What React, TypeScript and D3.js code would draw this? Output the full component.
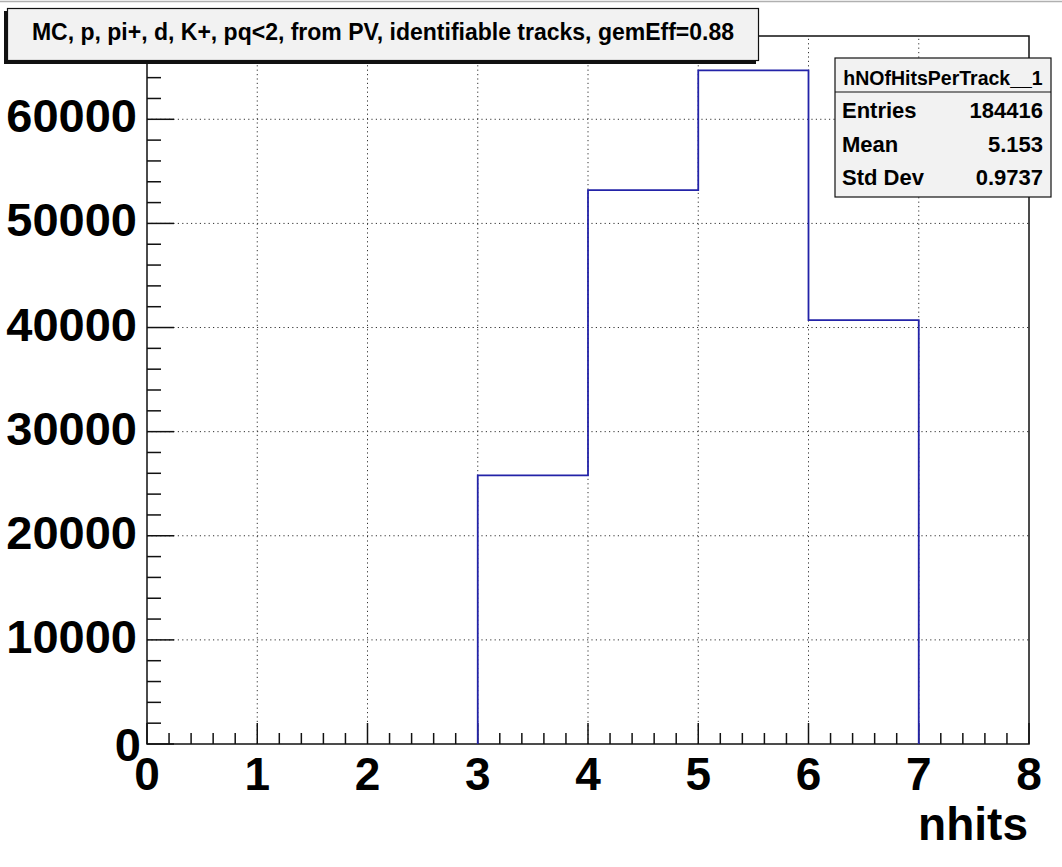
import { useEffect, useRef } from "react";
import * as d3 from "d3";

// histogram bins (lower edge) and counts
const binEdges = [3, 4, 5, 6];
const binCounts = [25800, 53200, 64700, 40716];
const xTicks = [0, 1, 2, 3, 4, 5, 6, 7, 8];
const yTicks = [0, 10000, 20000, 30000, 40000, 50000, 60000];
const titleText = "MC, p, pi+, d, K+, pq<2, from PV, identifiable tracks, gemEff=0.88";
const statsName = "hNOfHitsPerTrack__1";
const statsLabels = ["Entries", "Mean", "Std Dev"];
const statsValues = ["184416", "5.153", "0.9737"];

export default function App() {
  const ref = useRef<SVGSVGElement>(null);

  useEffect(() => {
    const width = 1062;
    const height = 867;
    const left = 147;
    const right = 1029;
    const top = 36;
    const bottom = 744;
    const font = "'Liberation Sans', Arial, Helvetica, sans-serif";

    const svg = d3.select(ref.current);
    svg.selectAll("*").remove();
    svg.attr("width", width).attr("height", height)
      .attr("viewBox", `0 0 ${width} ${height}`)
      .style("font-family", font);

    svg.append("rect").attr("width", width).attr("height", height).attr("fill", "white");
    svg.append("line").attr("x1", 0).attr("x2", width).attr("y1", 1.5).attr("y2", 1.5)
      .attr("stroke", "#b0b0b0").attr("stroke-width", 1.5);

    const x = d3.scaleLinear([0, 8], [left, right]);
    const y = d3.scaleLinear([0, 68000], [bottom, top]);

    // grid
    const grid = svg.append("g").attr("stroke", "#333").attr("stroke-width", 1)
      .attr("stroke-dasharray", "1.2,3.2");
    xTicks.slice(1, -1).forEach(t => {
      grid.append("line").attr("x1", x(t)).attr("x2", x(t)).attr("y1", bottom).attr("y2", top);
    });
    yTicks.slice(1).forEach(t => {
      grid.append("line").attr("x1", left).attr("x2", right).attr("y1", y(t)).attr("y2", y(t));
    });

    // frame
    svg.append("rect").attr("x", left).attr("y", top)
      .attr("width", right - left).attr("height", bottom - top)
      .attr("fill", "none").attr("stroke", "#111").attr("stroke-width", 1.5);

    // ticks
    const ticks = svg.append("g").attr("stroke", "#111").attr("stroke-width", 1.5);
    d3.range(0, 8.001, 0.2).forEach(v => {
      const major = Math.abs(v - Math.round(v)) < 1e-6;
      ticks.append("line").attr("x1", x(v)).attr("x2", x(v))
        .attr("y1", bottom).attr("y2", bottom - (major ? 21 : 11));
    });
    d3.range(0, 68001, 2000).forEach(v => {
      const major = v % 10000 === 0;
      ticks.append("line").attr("x1", left).attr("x2", left + (major ? 27 : 14))
        .attr("y1", y(v)).attr("y2", y(v));
    });

    // histogram
    const pts: [number, number][] = [];
    binEdges.forEach((e, i) => {
      pts.push([e, i === 0 ? 0 : binCounts[i - 1]]);
      pts.push([e, binCounts[i]]);
    });
    const lastEdge = binEdges[binEdges.length - 1] + 1;
    pts.push([lastEdge, binCounts[binCounts.length - 1]]);
    pts.push([lastEdge, 0]);
    const line = d3.line<[number, number]>().x(d => x(d[0])).y(d => y(d[1]));
    svg.append("path").attr("d", line(pts)).attr("fill", "none")
      .attr("stroke", "#2323a8").attr("stroke-width", 1.8);

    // axis labels
    svg.append("g").selectAll("text").data(xTicks).join("text")
      .attr("x", d => x(d)).attr("y", 790)
      .attr("text-anchor", "middle").attr("font-size", 46).attr("font-weight", "bold")
      .text(d => d);
    svg.append("g").selectAll("text").data(yTicks).join("text")
      .attr("x", d => d === 0 ? 141 : 137).attr("y", d => y(d) + (d === 0 ? 17 : 13))
      .attr("text-anchor", "end").attr("font-size", 47).attr("font-weight", "bold")
      .text(d => d);
    svg.append("text").attr("x", 1028).attr("y", 840).attr("text-anchor", "end")
      .attr("font-size", 46).attr("font-weight", "bold").text("nhits");

    // title box
    svg.append("rect").attr("x", 4).attr("y", 11).attr("width", 752).attr("height", 53)
      .attr("fill", "#111");
    svg.append("rect").attr("x", 7.5).attr("y", 8.5).attr("width", 751).attr("height", 52)
      .attr("fill", "#f2f2f2").attr("stroke", "#111").attr("stroke-width", 1.2);
    svg.append("text").attr("x", 383).attr("y", 39.5).attr("text-anchor", "middle")
      .attr("font-size", 23).attr("font-weight", "bold").text(titleText);

    // stats box
    const sx0 = 835, sx1 = 1051, sy0 = 58, sy1 = 197, sh = 92;
    svg.append("rect").attr("x", sx0).attr("y", sy0).attr("width", sx1 - sx0).attr("height", sy1 - sy0)
      .attr("fill", "#f2f2f2").attr("stroke", "#111").attr("stroke-width", 1.2);
    svg.append("line").attr("x1", sx0).attr("x2", sx1).attr("y1", sh).attr("y2", sh)
      .attr("stroke", "#111").attr("stroke-width", 1.2);
    svg.append("text").attr("x", (sx0 + sx1) / 2).attr("y", 85).attr("text-anchor", "middle")
      .attr("font-size", 19.5).attr("font-weight", "bold").text(statsName);
    const rowY = [118, 152, 185];
    statsLabels.forEach((lab, i) => {
      svg.append("text").attr("x", 842).attr("y", rowY[i])
        .attr("font-size", 22).attr("font-weight", "bold").text(lab);
      svg.append("text").attr("x", 1043).attr("y", rowY[i]).attr("text-anchor", "end")
        .attr("font-size", 22).attr("font-weight", "bold").text(statsValues[i]);
    });
  }, []);

  return (
    <svg ref={ref} style={{ position: "absolute", left: 0, top: 0, display: "block" }}></svg>
  );
}
